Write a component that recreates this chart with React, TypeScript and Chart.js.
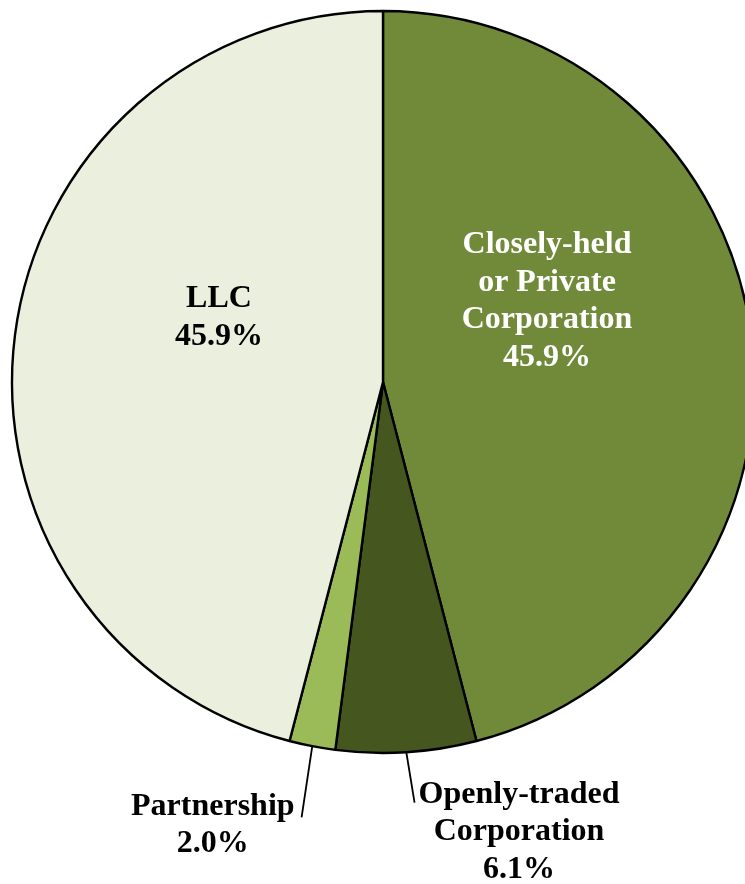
import React, { useEffect, useRef } from "react";
import { Chart, registerables } from "chart.js";

Chart.register(...registerables);

const categories = [
  ["Closely-held", "or Private", "Corporation"],
  ["Openly-traded", "Corporation"],
  ["Partnership"],
  ["LLC"],
];
const values = [45.9, 6.1, 2.0, 45.9];
const valueLabels = ["45.9%", "6.1%", "2.0%", "45.9%"];
const colors = ["#718A3A", "#46561F", "#9BBB59", "#EAF0DD"];
const labelColors = ["#FFFFFF", "#000000", "#000000", "#000000"];

const FONT = "bold 32px 'Liberation Serif', 'Times New Roman', serif";
const LINE_H = 37.5;

// label placement: inside (offset as fraction of radius) or outside (leader line)
const placements: any[] = [
  { type: "inside", fx: 0.442, fy: -0.218 },
  { type: "outside", lineEnd: 1.137, endShift: -0.012, side: "right", dy: -8 },
  { type: "outside", lineEnd: 1.194, endShift: -0.007, side: "left", dy: -11 },
  { type: "inside", fx: -0.442, fy: -0.173 },
];

const labelPlugin = {
  id: "pieLabels",
  afterDatasetsDraw(chart: any) {
    const ctx = chart.ctx;
    const meta = chart.getDatasetMeta(0);
    ctx.save();
    ctx.font = FONT;
    ctx.textBaseline = "middle";
    meta.data.forEach((arc: any, i: number) => {
      const { x, y, outerRadius, startAngle, endAngle } = arc.getProps(
        ["x", "y", "outerRadius", "startAngle", "endAngle"],
        true
      );
      const lines = [...categories[i], valueLabels[i]];
      const p = placements[i];
      ctx.fillStyle = labelColors[i];
      if (p.type === "inside") {
        const cx = x + p.fx * outerRadius;
        const cy = y + p.fy * outerRadius;
        ctx.textAlign = "center";
        const top = cy - ((lines.length - 1) * LINE_H) / 2;
        lines.forEach((t, k) => ctx.fillText(t, cx, top + k * LINE_H));
      } else {
        const mid = (startAngle + endAngle) / 2;
        const sx = x + Math.cos(mid) * outerRadius;
        const sy = y + Math.sin(mid) * outerRadius;
        const ea = mid + p.endShift;
        const ex = x + Math.cos(ea) * outerRadius * p.lineEnd;
        const ey = y + Math.sin(ea) * outerRadius * p.lineEnd;
        ctx.strokeStyle = "#000";
        ctx.lineWidth = 1.8;
        ctx.beginPath();
        ctx.moveTo(sx, sy);
        ctx.lineTo(ex, ey);
        ctx.stroke();
        const w = Math.max(...lines.map((t) => ctx.measureText(t).width));
        const cx = p.side === "right" ? ex + 4 + w / 2 : ex - 7 - w / 2;
        ctx.textAlign = "center";
        const top = ey + p.dy;
        lines.forEach((t, k) => ctx.fillText(t, cx, top + k * LINE_H));
      }
    });
    ctx.restore();
  },
};

export default function App() {
  const ref = useRef<HTMLCanvasElement>(null);
  useEffect(() => {
    const chart = new Chart(ref.current!, {
      type: "pie",
      data: {
        labels: categories.map((c) => c.join(" ")),
        datasets: [
          {
            data: values,
            backgroundColor: colors,
            borderColor: "#000000",
            borderWidth: 2.4,
            radius: 371,
          } as any,
        ],
      },
      options: {
        responsive: false,
        animation: false,
        devicePixelRatio: 1,
        layout: { padding: { left: 21, right: 0, top: 0, bottom: 120 } },
        plugins: {
          legend: { display: false },
          tooltip: { enabled: false },
        },
      },
      plugins: [labelPlugin],
    });
    return () => chart.destroy();
  }, []);
  return (
    <div style={{ position: "fixed", left: 0, top: 0, width: 745, height: 884, background: "#fff" }}>
      <canvas ref={ref} width={745} height={884} style={{ width: 745, height: 884 }} />
    </div>
  );
}
